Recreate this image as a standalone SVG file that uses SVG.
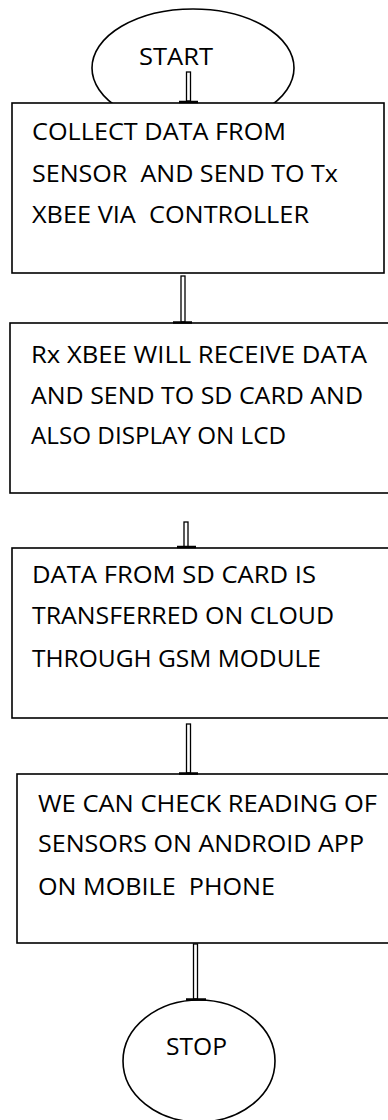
<svg xmlns="http://www.w3.org/2000/svg" width="388" height="1120" viewBox="0 0 388 1120">
<style>
.shape{fill:#fff;stroke:#000;stroke-width:1.6}
.t{font-family:"Open Sans","Noto Sans","Liberation Sans",sans-serif;font-size:24px;fill:#000;white-space:pre}
.stem{fill:#fff;stroke:#000;stroke-width:1.3}
.bar{stroke:#000;stroke-width:2.5}
</style>
<rect width="388" height="1120" fill="#fff"/>
<g id="start">
<ellipse class="shape" cx="193" cy="68" rx="101" ry="59"/>
<text class="t" x="139" y="65" textLength="74" lengthAdjust="spacingAndGlyphs">START</text>
</g>
<g id="box1">
<rect class="shape" x="12" y="103" width="372" height="170"/>
<text class="t" x="32" y="140" textLength="254" lengthAdjust="spacingAndGlyphs">COLLECT DATA FROM</text>
<text class="t" x="32" y="182" textLength="306" lengthAdjust="spacingAndGlyphs">SENSOR  AND SEND TO Tx</text>
<text class="t" x="32" y="223" textLength="277" lengthAdjust="spacingAndGlyphs">XBEE VIA  CONTROLLER</text>
</g>
<g id="box2">
<rect class="shape" x="10" y="323" width="384" height="170"/>
<text class="t" x="31" y="363" textLength="336" lengthAdjust="spacingAndGlyphs">Rx XBEE WILL RECEIVE DATA</text>
<text class="t" x="31" y="404" textLength="332" lengthAdjust="spacingAndGlyphs">AND SEND TO SD CARD AND</text>
<text class="t" x="31" y="444" textLength="255" lengthAdjust="spacingAndGlyphs">ALSO DISPLAY ON LCD</text>
</g>
<g id="box3">
<rect class="shape" x="12" y="548" width="384" height="170"/>
<text class="t" x="32" y="583" textLength="284" lengthAdjust="spacingAndGlyphs">DATA FROM SD CARD IS</text>
<text class="t" x="32" y="624" textLength="302" lengthAdjust="spacingAndGlyphs">TRANSFERRED ON CLOUD</text>
<text class="t" x="32" y="667" textLength="289" lengthAdjust="spacingAndGlyphs">THROUGH GSM MODULE</text>
</g>
<g id="box4">
<rect class="shape" x="17" y="774" width="384" height="169"/>
<text class="t" x="38" y="812" textLength="339" lengthAdjust="spacingAndGlyphs">WE CAN CHECK READING OF</text>
<text class="t" x="38" y="852" textLength="326" lengthAdjust="spacingAndGlyphs">SENSORS ON ANDROID APP</text>
<text class="t" x="38" y="895" textLength="237" lengthAdjust="spacingAndGlyphs">ON MOBILE  PHONE</text>
</g>
<g id="stop">
<ellipse class="shape" cx="199" cy="1061" rx="76" ry="61"/>
<text class="t" x="166" y="1055" textLength="61" lengthAdjust="spacingAndGlyphs">STOP</text>
</g>
<g id="connectors">
<rect class="stem" x="186.5" y="72" width="4" height="29"/>
<line class="bar" x1="179" y1="102" x2="198" y2="102"/>
<rect class="stem" x="181" y="276" width="4" height="46"/>
<line class="bar" x1="173" y1="322.5" x2="192" y2="322.5"/>
<rect class="stem" x="184" y="522" width="4" height="25"/>
<line class="bar" x1="177" y1="547" x2="196" y2="547"/>
<rect class="stem" x="186.5" y="724" width="4" height="49"/>
<line class="bar" x1="179" y1="773.5" x2="198" y2="773.5"/>
<rect class="stem" x="193.5" y="944" width="4" height="55"/>
<line class="bar" x1="186" y1="999.5" x2="206" y2="999.5"/>
</g>
</svg>
